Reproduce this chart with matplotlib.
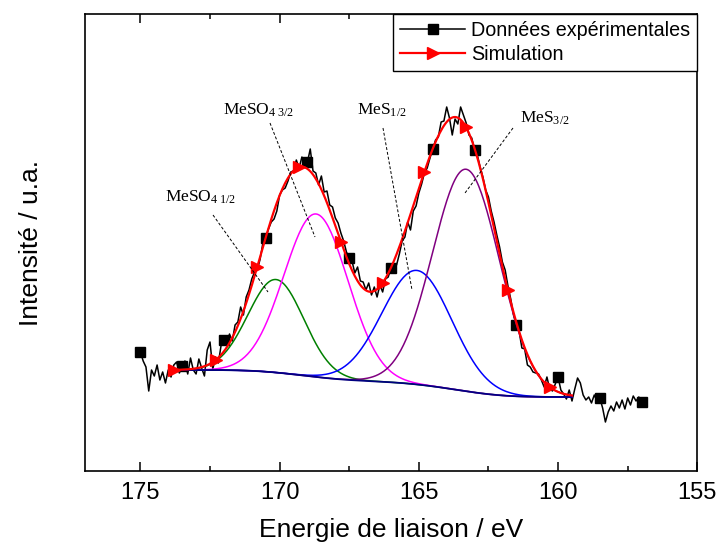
import numpy as np
import matplotlib
matplotlib.use('Agg')
import matplotlib.pyplot as plt
from matplotlib.lines import Line2D

plt.rcParams['font.family'] = ['Liberation Sans', 'DejaVu Sans']
plt.rcParams['mathtext.fontset'] = 'custom'
plt.rcParams['mathtext.rm'] = 'Liberation Serif'
plt.rcParams['mathtext.it'] = 'Liberation Serif:italic'

# ---------------- data ----------------
# experimental spectrum: binding energy 175.0 -> 157.0 eV, step 0.1 eV
E_START, E_STOP, E_STEP = 175.0, 157.0, 0.1
exp_counts = [
    119, 110, 104, 80, 101, 95, 106, 91, 99, 88,        # 175.0 - 174.1
    101, 94, 106, 109, 98, 105, 110, 97, 113, 101,      # 174.0 - 173.1
    97, 112, 103, 95, 121, 129, 102, 114, 108, 126,     # 173.0 - 172.1
    131, 126, 137, 130, 146, 149, 164, 156, 174, 181,   # 172.0 - 171.1
    192, 199, 201, 212, 228, 233, 242, 249, 252, 260,   # 171.0 - 170.1
    276, 281, 283, 290, 299, 300, 311, 303, 314, 306,   # 170.0 - 169.1
    309, 322, 300, 298, 286, 295, 279, 280, 266, 264,   # 169.0 - 168.1
    253, 248, 238, 230, 219, 213, 210, 198, 204, 190,   # 168.0 - 167.1
    189, 181, 188, 176, 184, 174, 186, 179, 192, 194,   # 167.0 - 166.1
    203, 207, 206, 217, 230, 234, 249, 241, 260, 265,   # 166.0 - 165.1
    278, 287, 298, 303, 313, 322, 331, 334, 349, 350,   # 165.0 - 164.1
    364, 353, 336, 352, 347, 364, 356, 348, 336, 333,   # 164.0 - 163.1
    321, 316, 304, 294, 281, 274, 260, 249, 236, 224,   # 163.0 - 162.1
    209, 201, 185, 172, 156, 146, 140, 123, 122, 106,   # 162.0 - 161.1
    104, 99, 98, 97, 91, 84, 94, 82, 80, 87,            # 161.0 - 160.1
    94, 81, 77, 72, 81, 70, 82, 93, 88, 76,             # 160.0 - 159.1
    71, 74, 68, 76, 70, 73, 63, 49, 59, 65,             # 159.0 - 158.1
    60, 69, 63, 71, 62, 73, 66, 75, 70, 74,             # 158.0 - 157.1
    69,                                                 # 157.0
]

# fitted components (Gaussian peaks on a Shirley background)
peak_labels = [r'MeSO$_{4\ 1/2}$', r'MeSO$_{4\ 3/2}$', r'MeS$_{1/2}$', r'MeS$_{3/2}$']
peak_centers = [170.13, 168.69, 165.07, 163.30]   # eV
peak_heights = [93.0, 163.0, 114.0, 222.0]        # a.u.
peak_sigmas = [1.00, 1.15, 1.25, 1.20]            # eV
peak_colors = ['#008000', '#ff00ff', '#0000ff', '#800080']
fit_range = [173.9, 159.5]                         # eV
baseline_ends = [101.0, 74.0]                      # background at high / low BE end

# ---------------- computations ----------------
E_exp = np.round(np.arange(E_START, E_STOP - E_STEP / 2, -E_STEP), 2)
y_exp = np.array(exp_counts, dtype=float)
assert len(E_exp) == len(y_exp)

E_fit = np.linspace(fit_range[0], fit_range[1], 289)
peaks = [h * np.exp(-(E_fit - c) ** 2 / (2 * s ** 2))
         for c, h, s in zip(peak_centers, peak_heights, peak_sigmas)]
psum = np.sum(peaks, axis=0)
cum = np.cumsum(psum[::-1])[::-1]
frac = cum / cum[0]
base = baseline_ends[1] + (baseline_ends[0] - baseline_ends[1]) * frac
fit_total = base + psum

# ---------------- figure ----------------
fig = plt.figure(figsize=(7.21, 5.47), dpi=100)
ax = fig.add_axes([84.7 / 721, 1 - 471 / 547, (697.3 - 84.7) / 721, (471 - 14) / 547])

ax.plot(E_exp, y_exp, color='black', lw=1.1, marker='s', markersize=7,
        markevery=15, zorder=2, label='Données expérimentales')
for pk, col in zip(peaks, peak_colors):
    ax.plot(E_fit, base + pk, color=col, lw=1.1, zorder=3)
ax.plot(E_fit, base, color='#000080', lw=1.3, zorder=3)
ax.plot(E_fit, fit_total, color='#ff0000', lw=1.6, marker='>', markersize=8.5,
        markevery=(2, 30), zorder=4, label='Simulation')

ax.set_xlim(177, 155)
ax.set_ylim(0, 457)
ax.set_xticks([175, 170, 165, 160, 155])
ax.set_xticks([172.5, 167.5, 162.5, 157.5], minor=True)
ax.set_yticks([])
ax.tick_params(axis='x', which='both', direction='in', top=True, labelsize=17, pad=8, width=1.1)
ax.tick_params(axis='x', which='major', length=6.5)
ax.tick_params(axis='x', which='minor', length=3.6)
for sp in ax.spines.values():
    sp.set_linewidth(1.2)

ax.set_xlabel('Energie de liaison / eV', fontsize=19, labelpad=10)
ax.set_ylabel('Intensité / u.a.', fontsize=19, labelpad=30)

leg = ax.legend(loc='upper right', borderaxespad=0, fontsize=14.2, frameon=True,
                fancybox=False, framealpha=1, edgecolor='black', handlelength=3.3,
                handletextpad=0.3, labelspacing=0.25, borderpad=0.35)
leg.get_frame().set_linewidth(1.0)


def fxy(px, py):
    return (px / 721, 1 - py / 547)


label_pos = [(165, 197), (223, 110), (357, 110), (520, 118)]
for lab, (px, py) in zip(peak_labels, label_pos):
    fig.text(*fxy(px, py), lab, family='Liberation Serif', fontsize=12.5,
             ha='left', va='center')

leader_lines = [((213, 215), (268, 292)), ((270, 123), (315, 237)),
                ((383, 128), (412, 290)), ((513, 128), (465, 193))]
for (p0, p1) in leader_lines:
    a, b = fxy(*p0), fxy(*p1)
    fig.add_artist(Line2D([a[0], b[0]], [a[1], b[1]], transform=fig.transFigure,
                          color='black', lw=0.7, linestyle=(0, (3, 2))))

fig.savefig('out.png', dpi=100)
